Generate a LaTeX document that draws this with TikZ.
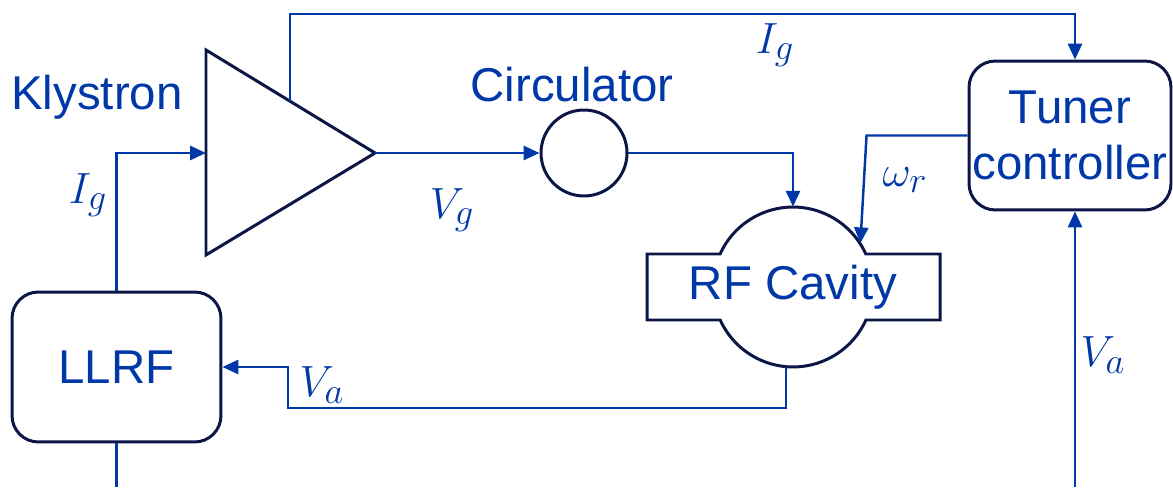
\documentclass[tikz,border=0pt]{standalone}
\usepackage{fontspec}
\setmainfont{Liberation Sans}
\usetikzlibrary{arrows.meta, positioning}
\definecolor{sigblue}{RGB}{0,56,168}
\definecolor{edgenavy}{RGB}{12,22,70}

\begin{document}
\begin{tikzpicture}[
        x=0.02cm, y=0.02cm,
        every node/.style={text=sigblue, font=\fontsize{27}{32}\selectfont},
        sig/.style={-{Triangle[length=9pt, width=8pt]}, sigblue, line width=1.4pt},
        wire/.style={sigblue, line width=1.4pt},
        outline/.style={draw=edgenavy, line width=1.7pt}
    ]

    \tikzset{
    block/.style={outline, rounded corners=15pt, align=center, inner sep=0pt},
    lbl/.style={inner sep=1pt, font=\fontsize{29}{34}\selectfont}
}

    \useasboundingbox (0,0) rectangle (1173,487);

    % klystron
    \draw[outline] (206,437) coordinate (kA) -- (375,334) coordinate (kTip) -- (206,232) coordinate (kB) -- cycle;
    \coordinate (kIn) at (206,334);
    \coordinate (kTop) at (290,386);
    \node (klystron) at (97,390) {Klystron};

    % circulator
    \node[circle, outline, minimum size=1.72cm, inner sep=0pt] (circ) at (584,334) {};
    \node (circlabel) at (572,402) {Circulator};

    % rf cavity
    \draw[outline] (720.1,233) arc[start angle=155.6, end angle=24.4, radius=80]
        -- (940,233) -- (940,167) -- (865.9,167)
        arc[start angle=-24.4, end angle=-155.6, radius=80]
        -- (647,167) -- (647,233) -- cycle;
    \node[circle, minimum size=3.2cm, inner sep=0pt] (cavity) at (793,200) {};
    \node (cavtext) at (cavity.center) {RF Cavity};

    % boxes
    \node[block, minimum width=4.18cm, minimum height=3cm] (llrf) at (116.5,120) {LLRF};
    \node[block, minimum width=4.04cm, minimum height=2.98cm] (tuner) at (1070,351.5) {Tuner\\controller};

    \coordinate (llrfOut) at (116.5,0);
    \coordinate (vaIn) at (1075,0);

    \draw[sig] (kTip) -- (circ.west);
    \draw[sig] (circ.east) -| (cavity.north);
    \draw[sig] (tuner.west) -- ++(-101,0) coordinate (wrBend) -- (cavity.33);
    \draw[sig] (cavity.265) |- (288,79) |- (llrf.east);
    \draw[sig] (llrf.north) |- (kIn);
    \draw[wire] (llrf.south) -- (llrfOut);
    \draw[sig] (vaIn) -- (vaIn |- tuner.south);
    \draw[sig] (kTop) -- ++(0,87) -| ([xshift=0.1cm]tuner.north);

    % signal labels
    \node[lbl] (igTop) at (775,442) {$I_g$};
    \node[lbl] (vg) at (452,277) {$V_g$};
    \node[lbl] (igLeft) at (88,292) {$I_g$};
    \node[lbl] (wr) at (905,307) {$\omega_r$};
    \node[lbl] (vaLow) at (322,102) {$V_a$};
    \node[lbl] (vaRight) at (1103,132) {$V_a$};
    \end{tikzpicture}
\end{document}
